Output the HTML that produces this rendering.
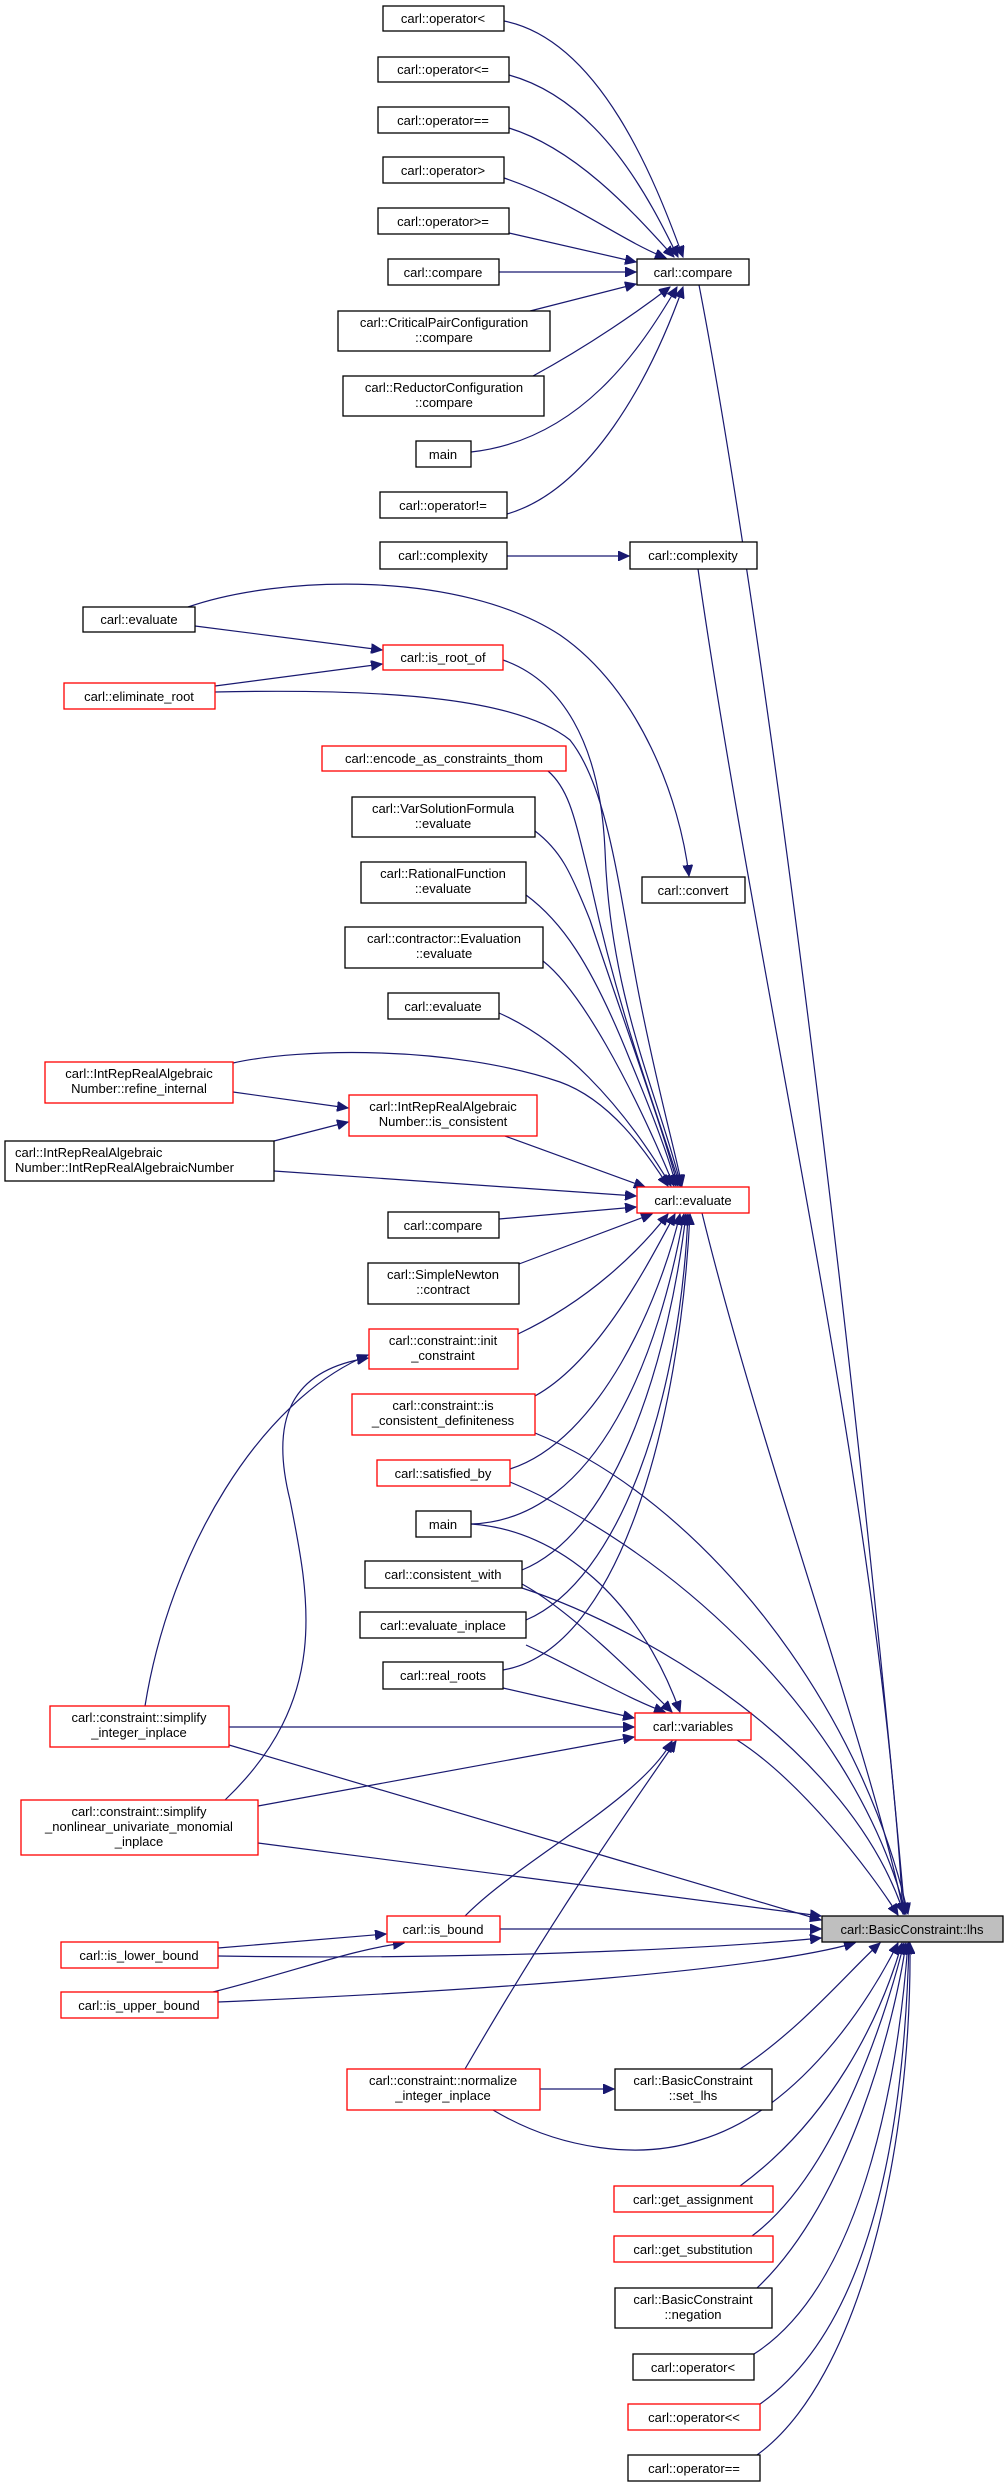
<!DOCTYPE html>
<html><head><meta charset="utf-8"><style>
html,body{margin:0;padding:0;background:#fff;}
svg{display:block;}
text{font-family:"Liberation Sans",sans-serif;font-size:13px;fill:#000;text-anchor:middle;}
.e{fill:none;stroke:#191970;stroke-width:1.2;marker-end:url(#a);}
.n{fill:none;stroke:#191970;stroke-width:1.2;}
.b{fill:#fff;stroke:#000;stroke-width:1.3;}
.r{fill:#fff;stroke:#ff0000;stroke-width:1.3;}
.g{fill:#bfbfbf;stroke:#000;stroke-width:1.3;}
</style></head><body>
<svg width="1005" height="2487" viewBox="0 0 1005 2487" xmlns="http://www.w3.org/2000/svg">
<defs><marker id="a" markerUnits="userSpaceOnUse" markerWidth="12" markerHeight="10" refX="11" refY="5" orient="auto"><path d="M0,0 L11,5 L0,10 Z" fill="#191970" stroke="#191970"/></marker></defs>

<!-- edges to compare -->
<path class="e" d="M504,21 C600,40 655,180 683,257"/>
<path class="e" d="M509,75 C600,100 650,200 678,257"/>
<path class="e" d="M509,128 C580,150 640,220 674,257"/>
<path class="e" d="M504,178 C570,200 620,240 666,258"/>
<path class="e" d="M509,233 L636,262"/>
<path class="e" d="M499,272 L636,272"/>
<path class="e" d="M530,311 L636,284"/>
<path class="e" d="M533,376 C590,345 640,310 670,287"/>
<path class="e" d="M471,452 C580,440 640,350 677,287"/>
<path class="e" d="M507,514 C590,490 650,380 683,287"/>
<path class="e" d="M699,285 C760,600 850,1300 905,1914"/>
<path class="e" d="M507,556 L629,556"/>
<path class="e" d="M698,569 C760,1000 880,1500 903,1914"/>
<!-- evaluate left -->
<path class="e" d="M188,607 C280,575 460,570 560,635 C640,690 680,800 689,876"/>
<path class="e" d="M195,626 L382,650"/>
<path class="e" d="M215,686 L382,664"/>
<path class="e" d="M215,692 C400,688 520,700 570,740 C610,790 620,900 640,1000 C660,1100 675,1150 682,1186"/>
<path class="e" d="M503,660 C560,680 600,740 605,850 C610,1000 660,1100 681,1186"/>
<path class="e" d="M548,771 C570,790 575,820 590,880 C620,1020 660,1120 680,1186"/>
<path class="e" d="M535,831 C560,850 570,870 590,920 C630,1040 660,1120 678,1186"/>
<path class="e" d="M526,895 C560,920 590,960 630,1060 C655,1120 670,1160 676,1186"/>
<path class="e" d="M543,961 C580,990 630,1080 674,1186"/>
<path class="e" d="M499,1013 C560,1040 620,1100 671,1186"/>
<path class="e" d="M233,1063 C300,1048 450,1045 560,1082 C610,1100 645,1150 668,1186"/>
<path class="e" d="M233,1092 L348,1108"/>
<path class="e" d="M274,1141 L348,1122"/>
<path class="e" d="M274,1171 L636,1196"/>
<path class="e" d="M505,1136 L645,1187"/>
<path class="e" d="M499,1219 L636,1207"/>
<path class="e" d="M702,1213 C760,1450 870,1750 904,1914"/>
<path class="e" d="M519,1264 L652,1214"/>
<path class="e" d="M518,1334 C590,1300 640,1250 668,1214"/>
<path class="e" d="M535,1396 C600,1360 650,1260 675,1214"/>
<path class="e" d="M510,1469 C600,1440 660,1300 680,1214"/>
<path class="e" d="M471,1524 C600,1520 660,1350 684,1214"/>
<path class="e" d="M522,1570 C620,1530 670,1350 686,1214"/>
<path class="e" d="M526,1620 C620,1580 680,1400 688,1214"/>
<path class="e" d="M503,1670 C620,1650 680,1420 690,1214"/>
<path class="e" d="M535,1433 C700,1500 860,1700 908,1914"/>
<path class="e" d="M510,1482 C650,1540 850,1700 906,1914"/>
<path class="e" d="M471,1524 C560,1530 640,1600 680,1712"/>
<path class="e" d="M522,1584 C570,1610 640,1680 672,1712"/>
<path class="e" d="M522,1588 C650,1630 850,1750 904,1914"/>
<path class="e" d="M526,1645 C580,1670 630,1700 665,1712"/>
<path class="e" d="M503,1688 L634,1718"/>
<path class="e" d="M229,1727 L634,1727"/>
<path class="e" d="M229,1745 L821,1920"/>
<path class="e" d="M145,1706 C170,1550 260,1400 368,1355"/>
<path class="e" d="M225,1800 C330,1700 310,1600 290,1500 C270,1420 290,1370 368,1358"/>
<path class="e" d="M258,1806 L634,1737"/>
<path class="e" d="M258,1843 L821,1916"/>
<path class="e" d="M737,1740 C800,1780 870,1870 898,1915"/>
<path class="e" d="M465,1916 C520,1860 640,1800 672,1741"/>
<path class="e" d="M465,2069 C540,1940 600,1850 676,1741"/>
<path class="e" d="M500,1929 L821,1929"/>
<path class="e" d="M218,1948 L386,1934"/>
<path class="e" d="M218,1956 C450,1960 700,1950 821,1938"/>
<path class="e" d="M213,1992 C300,1970 350,1950 404,1943"/>
<path class="e" d="M218,2002 C500,1990 760,1970 855,1943"/>
<path class="e" d="M540,2089 L614,2089"/>
<path class="e" d="M493,2110 C560,2150 640,2160 700,2140 C800,2110 870,2000 898,1943"/>
<path class="e" d="M740,2069 C800,2030 850,1970 880,1943"/>
<path class="e" d="M740,2186 C830,2120 880,2020 902,1943"/>
<path class="e" d="M752,2236 C840,2170 890,2000 904,1943"/>
<path class="e" d="M757,2288 C850,2200 895,2020 906,1943"/>
<path class="e" d="M754,2354 C870,2280 900,2050 908,1943"/>
<path class="e" d="M760,2404 C880,2320 905,2100 909,1943"/>
<path class="e" d="M757,2455 C860,2380 912,2150 910,1943"/>

<!-- nodes -->
<rect class="b" x="383" y="6" width="121" height="25"/><text x="443" y="23">carl::operator&lt;</text>
<rect class="b" x="378" y="57" width="131" height="25"/><text x="443" y="74">carl::operator&lt;=</text>
<rect class="b" x="378" y="107" width="131" height="26"/><text x="443" y="125">carl::operator==</text>
<rect class="b" x="383" y="157" width="121" height="26"/><text x="443" y="175">carl::operator&gt;</text>
<rect class="b" x="378" y="208" width="131" height="26"/><text x="443" y="226">carl::operator&gt;=</text>
<rect class="b" x="388" y="259" width="111" height="26"/><text x="443" y="277">carl::compare</text>
<rect class="b" x="338" y="311" width="212" height="40"/><text x="444" y="327">carl::CriticalPairConfiguration</text><text x="444" y="342">::compare</text>
<rect class="b" x="343" y="376" width="201" height="40"/><text x="444" y="392">carl::ReductorConfiguration</text><text x="444" y="407">::compare</text>
<rect class="b" x="416" y="441" width="55" height="26"/><text x="443" y="459">main</text>
<rect class="b" x="380" y="492" width="127" height="26"/><text x="443" y="510">carl::operator!=</text>
<rect class="b" x="380" y="542" width="127" height="27"/><text x="443" y="560">carl::complexity</text>
<rect class="b" x="637" y="259" width="112" height="26"/><text x="693" y="277">carl::compare</text>
<rect class="b" x="630" y="542" width="127" height="27"/><text x="693" y="560">carl::complexity</text>
<rect class="b" x="83" y="607" width="112" height="25"/><text x="139" y="624">carl::evaluate</text>
<rect class="r" x="383" y="645" width="120" height="25"/><text x="443" y="662">carl::is_root_of</text>
<rect class="r" x="64" y="683" width="151" height="26"/><text x="139" y="701">carl::eliminate_root</text>
<rect class="r" x="322" y="746" width="244" height="25"/><text x="444" y="763">carl::encode_as_constraints_thom</text>
<rect class="b" x="352" y="797" width="183" height="40"/><text x="443" y="813">carl::VarSolutionFormula</text><text x="443" y="828">::evaluate</text>
<rect class="b" x="361" y="862" width="165" height="41"/><text x="443" y="878">carl::RationalFunction</text><text x="443" y="893">::evaluate</text>
<rect class="b" x="345" y="927" width="198" height="41"/><text x="444" y="943">carl::contractor::Evaluation</text><text x="444" y="958">::evaluate</text>
<rect class="b" x="388" y="993" width="111" height="26"/><text x="443" y="1011">carl::evaluate</text>
<rect class="b" x="642" y="877" width="103" height="26"/><text x="693" y="895">carl::convert</text>
<rect class="r" x="45" y="1062" width="188" height="41"/><text x="139" y="1078">carl::IntRepRealAlgebraic</text><text x="139" y="1093">Number::refine_internal</text>
<rect class="r" x="349" y="1095" width="188" height="41"/><text x="443" y="1111">carl::IntRepRealAlgebraic</text><text x="443" y="1126">Number::is_consistent</text>
<rect class="b" x="5" y="1141" width="269" height="40"/><text x="15" y="1157" style="text-anchor:start">carl::IntRepRealAlgebraic</text><text x="15" y="1172" style="text-anchor:start">Number::IntRepRealAlgebraicNumber</text>
<rect class="r" x="637" y="1187" width="112" height="26"/><text x="693" y="1205">carl::evaluate</text>
<rect class="b" x="388" y="1212" width="111" height="26"/><text x="443" y="1230">carl::compare</text>
<rect class="b" x="368" y="1263" width="151" height="41"/><text x="443" y="1279">carl::SimpleNewton</text><text x="443" y="1294">::contract</text>
<rect class="r" x="369" y="1329" width="149" height="40"/><text x="443" y="1345">carl::constraint::init</text><text x="443" y="1360">_constraint</text>
<rect class="r" x="352" y="1394" width="183" height="41"/><text x="443" y="1410">carl::constraint::is</text><text x="443" y="1425">_consistent_definiteness</text>
<rect class="r" x="377" y="1460" width="133" height="26"/><text x="443" y="1478">carl::satisfied_by</text>
<rect class="b" x="416" y="1511" width="55" height="26"/><text x="443" y="1529">main</text>
<rect class="b" x="365" y="1561" width="157" height="27"/><text x="443" y="1579">carl::consistent_with</text>
<rect class="b" x="360" y="1612" width="166" height="26"/><text x="443" y="1630">carl::evaluate_inplace</text>
<rect class="b" x="383" y="1662" width="120" height="27"/><text x="443" y="1680">carl::real_roots</text>
<rect class="r" x="635" y="1713" width="116" height="27"/><text x="693" y="1731">carl::variables</text>
<rect class="r" x="50" y="1706" width="179" height="41"/><text x="139" y="1722">carl::constraint::simplify</text><text x="139" y="1737">_integer_inplace</text>
<rect class="r" x="21" y="1800" width="237" height="55"/><text x="139" y="1816">carl::constraint::simplify</text><text x="139" y="1831">_nonlinear_univariate_monomial</text><text x="139" y="1846">_inplace</text>
<rect class="r" x="387" y="1916" width="113" height="26"/><text x="443" y="1934">carl::is_bound</text>
<rect class="g" x="822" y="1916" width="181" height="26"/><text x="912" y="1934">carl::BasicConstraint::lhs</text>
<rect class="r" x="61" y="1942" width="157" height="26"/><text x="139" y="1960">carl::is_lower_bound</text>
<rect class="r" x="61" y="1992" width="157" height="26"/><text x="139" y="2010">carl::is_upper_bound</text>
<rect class="r" x="347" y="2069" width="193" height="41"/><text x="443" y="2085">carl::constraint::normalize</text><text x="443" y="2100">_integer_inplace</text>
<rect class="b" x="615" y="2069" width="157" height="41"/><text x="693" y="2085">carl::BasicConstraint</text><text x="693" y="2100">::set_lhs</text>
<rect class="r" x="614" y="2186" width="159" height="26"/><text x="693" y="2204">carl::get_assignment</text>
<rect class="r" x="614" y="2236" width="159" height="26"/><text x="693" y="2254">carl::get_substitution</text>
<rect class="b" x="615" y="2288" width="157" height="40"/><text x="693" y="2304">carl::BasicConstraint</text><text x="693" y="2319">::negation</text>
<rect class="b" x="633" y="2354" width="121" height="26"/><text x="693" y="2372">carl::operator&lt;</text>
<rect class="r" x="628" y="2404" width="132" height="26"/><text x="694" y="2422">carl::operator&lt;&lt;</text>
<rect class="b" x="628" y="2455" width="132" height="26"/><text x="694" y="2473">carl::operator==</text>
</svg>
</body></html>
